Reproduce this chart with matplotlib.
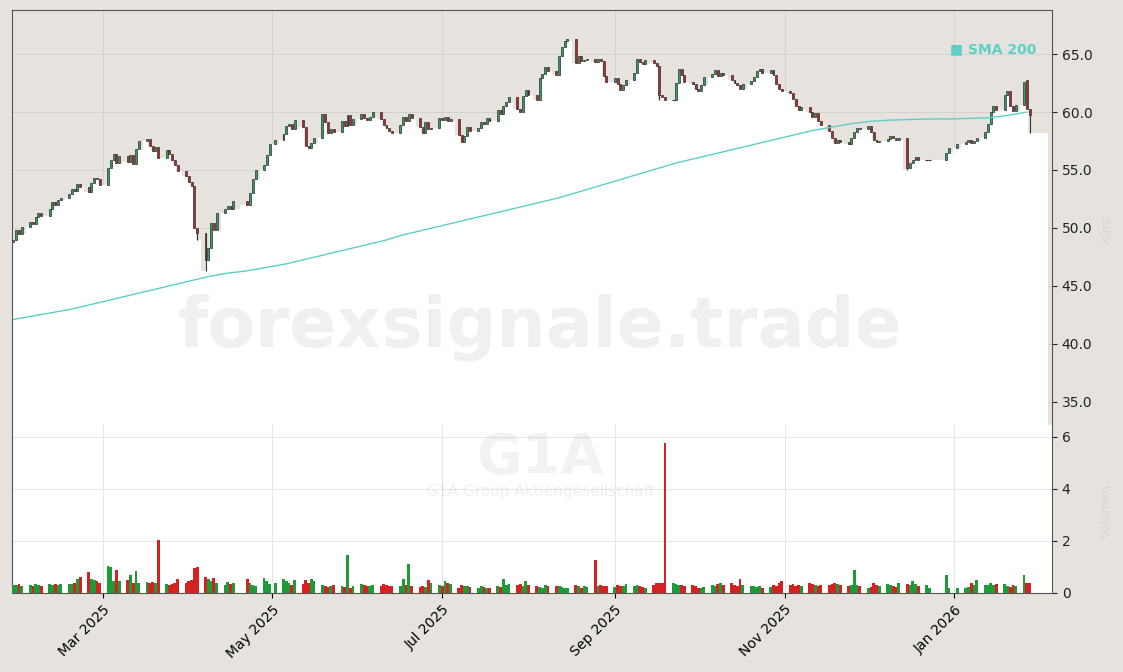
import numpy as np
import pandas as pd
import matplotlib
matplotlib.use("Agg")
import matplotlib.pyplot as plt
import matplotlib.dates as mdates

# daily closes, one line per week (Jan 28 2025 .. Jan 28 2026)
closes = [
    49.0, 49.8, 49.5, 50.1,
    50.5, 50.3, 50.9, 51.3, 51.0,
    51.6, 52.2, 52.0, 52.4, 52.6,
    52.9, 53.4, 53.2, 53.8, 53.5,
    53.1, 53.9, 54.3, 54.2, 53.7,
    55.2, 55.9, 56.4, 55.6, 56.2,
    55.7, 56.3, 55.5, 56.8, 57.5,
    57.7, 57.1, 56.6, 57.0, 56.0,
    56.7, 56.4, 55.9, 55.4, 54.9,
    54.5, 54.0, 53.6, 50.0, 49.6,
    47.2, 48.3, 50.4, 49.8, 51.3,
    51.6, 51.9, 51.6, 52.3,
    52.0, 53.0, 54.2, 55.0,
    55.4, 56.3, 57.2, 57.6,
    58.1, 58.8, 59.0, 58.5, 59.3,
    58.7, 57.1, 56.9, 57.3, 57.8,
    59.8, 59.1, 58.2, 58.5, 58.3,
    59.2, 58.8, 59.7, 58.9, 59.4,
    59.8, 59.5, 59.3, 59.6, 60.0,
    59.4, 58.9, 58.6, 58.4, 58.2,
    58.9, 59.6, 59.2, 59.8, 59.5,
    58.7, 58.2, 59.1, 58.5, 58.6,
    59.5, 59.3, 59.6, 59.2, 59.4,
    58.0, 57.4, 57.9, 58.7, 58.4,
    58.6, 59.1, 59.0, 59.5, 59.2,
    60.2, 59.8, 60.5, 60.9, 61.3,
    60.3, 60.0, 61.4, 61.9, 61.5,
    61.0, 62.9, 63.3, 63.9, 63.5,
    63.2, 64.8, 65.6, 66.1, 66.3,
    64.2, 64.8, 64.4, 64.5, 64.6,
    64.3, 64.6, 64.4, 63.1, 62.6,
    62.9, 62.4, 61.9, 62.3, 62.8,
    63.4, 64.6, 64.3, 64.1, 64.5,
    64.2, 64.0, 61.5, 61.3, 61.0,
    61.0, 62.5, 63.7, 63.2, 62.6,
    62.4, 62.0, 61.8, 62.3, 63.0,
    63.3, 63.6, 63.1, 63.4, 63.2,
    62.8, 62.5, 62.3, 62.0, 62.4,
    62.7, 63.0, 63.5, 63.7, 63.4,
    63.6, 63.2, 62.4, 62.0, 61.8,
    61.6, 61.1, 60.5, 60.2, 60.4,
    60.0, 59.6, 59.9, 59.2, 58.9,
    58.4, 57.8, 57.3, 57.6, 57.4,
    57.2, 57.8, 58.3, 58.6, 58.5,
    58.8, 58.3, 57.6, 57.4, 57.5,
    57.7, 57.9, 57.8, 57.6, 57.8,
    55.2, 55.6, 55.9, 56.1, 55.9,
    55.9, 55.9,
    56.5, 56.9, 57.2,
    57.4, 57.6, 57.3, 57.5, 57.8,
    58.3, 59.0, 60.0, 60.5, 60.2,
    61.5, 61.8, 60.5, 60.1, 60.6,
    62.6, 60.3, 59.7,
]
extra_low = {"2025-04-07": 46.3, "2025-04-04": 49.0, "2026-01-28": 58.2,
             "2025-12-15": 55.0, "2025-09-17": 61.0}
extra_open = {"2026-01-27": 62.8}

# volume (millions), same weekly layout as closes
volumes = [
    0.32, 0.30, 0.33, 0.28,
    0.30, 0.25, 0.35, 0.30, 0.28,
    0.33, 0.30, 0.36, 0.32, 0.34,
    0.35, 0.36, 0.40, 0.55, 0.62,
    0.80, 0.55, 0.50, 0.45, 0.40,
    1.02, 0.98, 0.45, 0.88, 0.45,
    0.50, 0.70, 0.40, 0.85, 0.40,
    0.42, 0.40, 0.42, 0.40, 2.05,
    0.35, 0.32, 0.36, 0.38, 0.55,
    0.40, 0.45, 0.50, 0.95, 0.98,
    0.60, 0.55, 0.45, 0.58, 0.40,
    0.30, 0.42, 0.35, 0.40,
    0.55, 0.38, 0.30, 0.28,
    0.58, 0.45, 0.35, 0.40,
    0.55, 0.45, 0.38, 0.30, 0.50,
    0.35, 0.48, 0.40, 0.52, 0.45,
    0.30, 0.28, 0.22, 0.26, 0.30,
    0.25, 0.22, 1.45, 0.20, 0.28,
    0.35, 0.30, 0.28, 0.26, 0.30,
    0.25, 0.35, 0.30, 0.28, 0.26,
    0.25, 0.55, 0.30, 1.10, 0.25,
    0.22, 0.25, 0.24, 0.48, 0.40,
    0.30, 0.25, 0.46, 0.38, 0.35,
    0.20, 0.30, 0.28, 0.25, 0.22,
    0.20, 0.25, 0.22, 0.20, 0.18,
    0.25, 0.22, 0.52, 0.30, 0.35,
    0.30, 0.35, 0.28, 0.45, 0.30,
    0.25, 0.22, 0.20, 0.30, 0.25,
    0.28, 0.25, 0.22, 0.20, 0.18,
    0.30, 0.25, 0.20, 0.28, 0.22,
    1.25, 0.25, 0.30, 0.28, 0.25,
    0.22, 0.30, 0.28, 0.25, 0.35,
    0.28, 0.30, 0.25, 0.22, 0.20,
    0.30, 0.40, 0.38, 0.40, 5.75,
    0.40, 0.35, 0.30, 0.32, 0.28,
    0.30, 0.25, 0.20, 0.18, 0.22,
    0.30, 0.25, 0.35, 0.40, 0.30,
    0.38, 0.32, 0.28, 0.55, 0.30,
    0.25, 0.28, 0.22, 0.25, 0.20,
    0.22, 0.30, 0.25, 0.40, 0.45,
    0.30, 0.35, 0.28, 0.30, 0.25,
    0.38, 0.35, 0.30, 0.28, 0.32,
    0.30, 0.35, 0.40, 0.35, 0.30,
    0.25, 0.30, 0.90, 0.30, 0.25,
    0.20, 0.22, 0.40, 0.30, 0.28,
    0.35, 0.30, 0.25, 0.22, 0.40,
    0.35, 0.30, 0.45, 0.35, 0.28,
    0.30, 0.20,
    0.70, 0.18, 0.18,
    0.18, 0.22, 0.40, 0.30, 0.48,
    0.30, 0.32, 0.40, 0.30, 0.33,
    0.33, 0.28, 0.24, 0.32, 0.28,
    0.68, 0.40, 0.38,
]

# SMA 200, one value per week
sma_weekly = [42.1, 42.4, 42.7, 43.0, 43.4, 43.8, 44.2, 44.6, 45.0, 45.4,
              45.8, 46.1, 46.3, 46.6, 46.9, 47.3, 47.7, 48.1, 48.5, 48.9,
              49.4, 49.8, 50.2, 50.6, 51.0, 51.4, 51.8, 52.2, 52.6, 53.1,
              53.6, 54.1, 54.6, 55.1, 55.6, 56.0, 56.4, 56.8, 57.2, 57.6,
              58.0, 58.4, 58.7, 59.0, 59.2, 59.3, 59.35, 59.4, 59.4, 59.45,
              59.5, 59.7, 60.0]

holidays = ["2025-04-18", "2025-04-21", "2025-05-01", "2025-12-24", "2025-12-25",
            "2025-12-26", "2025-12-31", "2026-01-01"]
dates = pd.bdate_range("2025-01-28", "2026-01-28")
dates = dates[~dates.isin(pd.to_datetime(holidays))]
n = min(len(dates), len(closes), len(volumes))
dates = dates[-n:]
c = np.array(closes[-n:])
vol = np.array(volumes[-n:])
o = np.concatenate([[48.8], c[:-1]])
for d, v in extra_open.items():
    if pd.Timestamp(d) in dates:
        o[dates.get_loc(pd.Timestamp(d))] = v
hi = np.maximum(o, c)
lo = np.minimum(o, c)
for d, v in extra_low.items():
    if pd.Timestamp(d) in dates:
        lo[dates.get_loc(pd.Timestamp(d))] = v
body_lo = np.minimum(o, c)
x = mdates.date2num(dates)
sma_dates = mdates.date2num(pd.date_range("2025-01-28", periods=len(sma_weekly), freq="7D"))

BG = "#e6e3de"
GREEN_C, RED_C = "#2f9e62", "#b52a2a"
GREEN_V, RED_V = "#1f9a38", "#d42222"
SMA = "#5ccfc6"

fig = plt.figure(figsize=(11.23, 6.72), dpi=100, facecolor=BG)
ax = fig.add_axes([0.0107, 0.3676, 0.926, 0.6175], facecolor=BG)
axv = fig.add_axes([0.0107, 0.1176, 0.926, 0.25], facecolor="white", sharex=ax)

xl = (mdates.datestr2num("2025-01-28") - 0.5, mdates.datestr2num("2026-02-05"))
ylo = 33.0
fx = np.concatenate([x, [xl[1] - 1.5]])
fl = np.concatenate([lo, [lo[-1]]])
ax.fill_between(fx, fl, ylo, step="mid", color="white", zorder=1, lw=0)

up = c >= o
for i in range(n):
    col = GREEN_C if up[i] else RED_C
    ax.vlines(x[i], lo[i], hi[i], color="#333333", lw=0.8, zorder=3)
    h = abs(c[i] - o[i])
    if h < 0.05:
        ax.hlines(c[i], x[i] - 0.6, x[i] + 0.6, color="#333333", lw=0.8, zorder=3)
    else:
        ax.bar(x[i], h, 0.7, bottom=body_lo[i], color=col,
               edgecolor="#333333", lw=0.5, zorder=4)
ax.plot(sma_dates, sma_weekly, color=SMA, lw=1, zorder=5)

ax.set_xlim(*xl)
ax.set_ylim(ylo, 68.8)
ax.set_yticks(np.arange(35, 66, 5))
ax.yaxis.set_major_formatter(matplotlib.ticker.FormatStrFormatter("%.1f"))
ax.yaxis.tick_right()
ax.tick_params(axis="x", labelbottom=False, length=0)
ax.tick_params(axis="y", labelsize=10, colors="#222222")
ax.grid(True, color="#d4d2ce", lw=0.7)
ax.set_axisbelow(True)
for s in ["top", "right", "left"]:
    ax.spines[s].set_color("#555555")
ax.spines["bottom"].set_visible(False)
ax.text(0.985, 0.905, "■ SMA 200", transform=ax.transAxes, ha="right", va="center",
        color=SMA, fontsize=10, fontweight="bold")

axv.bar(x, vol, 1.0, color=np.where(up, GREEN_V, RED_V), zorder=3)
axv.set_ylim(0, 6.46)
axv.set_yticks([0, 2, 4, 6])
axv.yaxis.tick_right()
axv.tick_params(axis="y", labelsize=10, colors="#222222")
axv.grid(True, color="#e6e6e6", lw=0.7)
axv.set_axisbelow(True)
for s in ["right", "left", "bottom"]:
    axv.spines[s].set_color("#555555")
axv.spines["top"].set_visible(False)
axv.xaxis.set_major_locator(mdates.MonthLocator(bymonth=[1, 3, 5, 7, 9, 11]))
axv.xaxis.set_major_formatter(mdates.DateFormatter("%b %Y"))
plt.setp(axv.get_xticklabels(), rotation=45, ha="right", rotation_mode="anchor", fontsize=10)

fig.text(0.481, 0.513, "forexsignale.trade", ha="center", va="center", fontsize=50,
         fontweight="bold", color="#000000", alpha=0.06)
fig.text(0.481, 0.318, "G1A", ha="center", va="center", fontsize=40,
         fontweight="bold", color="#000000", alpha=0.05)
fig.text(0.481, 0.268, "G1A Group Aktiengesellschaft", ha="center", va="center",
         fontsize=11, color="#000000", alpha=0.06)
fig.text(0.985, 0.66, "Kurs", rotation=90, ha="center", va="center", fontsize=9,
         color="#000000", alpha=0.06)
fig.text(0.985, 0.24, "Volumen", rotation=90, ha="center", va="center", fontsize=9,
         color="#000000", alpha=0.06)

fig.savefig("out.png", dpi=100, facecolor=BG)
